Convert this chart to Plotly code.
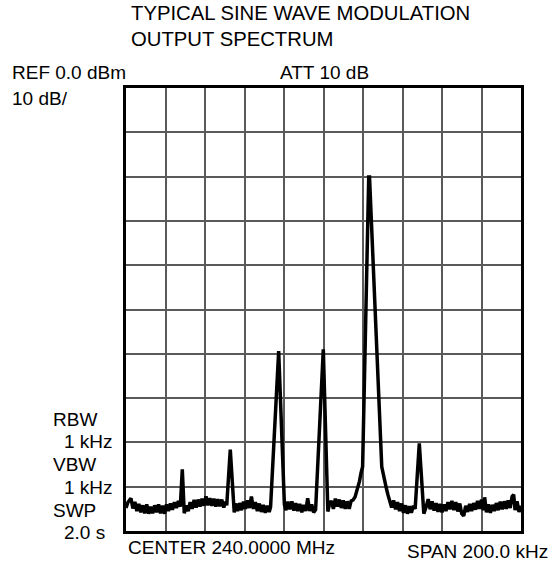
import plotly.graph_objects as go

# Frequency offset from center (kHz) and level (dBm)
freq_khz = [
    -100, -99, -97.5, -96.5, -95.5, -94.5, -93.5, -92.5, -91.5, -90.5, -89.5, -88.5, -87.5, -86.5,
    -85.5, -84.5, -83.5, -82.5, -81.5, -80.5, -79.5, -78.5, -77.5, -76.5, -75.5, -74.5, -73.5,
    -72.5, -71.5, -70.5, -69.5, -68.5, -67.5, -66.5, -65.5, -64.5, -63.5, -62.5, -61.5, -60.5,
    -59.5, -58.5, -57.5, -56.5, -55.5, -54.5, -53.5, -52.5, -51.5, -50.5, -49.5, -49.0, -47.2,
    -45.2, -44.5, -43.5, -42.5, -41.5, -40.5, -39.5, -38.5, -37.5, -36.5, -35.5, -34.5, -33.5,
    -32.5, -31.5, -30.5, -29.5, -28.5, -27.5, -26.8, -22.7, -19.8, -19.0, -18.0, -17.0, -16.0,
    -15.0, -14.0, -13.0, -12.0, -11.0, -10.0, -9.0, -8.0, -7.0, -6.0, -5.0, -4.0, -0.1, 2.2,
    3.0, 4.0, 5.0, 6.0, 7.0, 8.0, 9.0, 10.0, 11.0, 12.0, 13.0, 14.0, 15.0, 16.0, 16.8, 17.5,
    18.2, 19.0, 19.8, 22.9, 23.3, 29.5, 30.3, 31.1, 31.8, 32.6, 33.7, 34.5, 35.5, 36.5, 37.5,
    38.5, 39.5, 40.5, 41.5, 42.5, 43.5, 44.5, 45.5, 46.4, 48.5, 50.8, 52.0, 53.0, 54.0, 55.0,
    56.0, 57.0, 58.0, 59.0, 60.0, 61.0, 62.0, 63.0, 64.0, 65.0, 66.0, 67.0, 68.0, 69.0, 70.0,
    71.0, 72.0, 73.0, 74.0, 75.0, 76.0, 77.0, 78.0, 79.0, 80.0, 81.0, 81.6, 82.5, 83.5, 84.5,
    85.5, 86.5, 87.5, 88.5, 89.5, 90.5, 91.5, 92.5, 93.5, 94.5, 95.5, 96.3, 97.0, 98.0, 99.0,
    100.0,
]
level_dbm = [
    -94.8, -93.5, -92.6, -94.9, -93.4, -95.5, -93.9, -95.8, -94.2, -96.0, -94.0, -96.1, -94.5, -96.0,
    -94.2, -95.8, -94.0, -96.0, -94.3, -96.1, -94.0, -95.5, -93.8, -95.2, -93.5, -94.8, -93.2,
    -94.5, -86.1,
    -96.0, -94.2, -95.5, -93.5, -95.0, -93.0, -94.7, -92.9, -94.5, -92.7, -94.3, -92.2, -94.2,
    -92.6, -94.3, -92.7, -94.5, -92.8, -94.4, -92.9, -94.7, -93.4, -94.2,
    -81.6,
    -95.8, -93.8, -95.5, -93.7, -95.3, -93.4, -95.0, -93.1, -94.8, -92.2, -95.0, -93.5, -95.5,
    -93.8, -95.7, -94.1, -95.9, -94.3, -95.7, -94.6,
    -59.4,
    -94.0, -95.3, -93.4, -95.1, -93.3, -95.4, -93.7, -95.5, -93.9, -95.8, -94.1, -95.5, -92.6,
    -95.5, -94.0, -95.8, -95.2,
    -59.0,
    -95.6, -94.0, -93.2, -95.0, -92.7, -94.5, -92.9, -94.8, -93.1, -95.0, -93.3, -95.0, -93.2, -93.0,
    -92.3, -91.0, -90.1, -88.8, -86.9, -85.5,
    -20.1, -20.1,
    -85.5, -87.5, -89.2, -90.3, -91.8, -93.5,
    -94.7, -93.1, -95.1, -93.5, -95.5, -93.8, -95.9, -94.2, -96.1, -94.4, -95.9, -94.3,
    -95.0, -80.2, -96.1,
    -94.5, -92.8, -95.1, -93.3, -95.4, -93.7, -95.7, -93.9, -95.8, -94.0, -95.5, -93.5, -95.1,
    -93.2, -95.3, -93.5, -95.6, -93.8, -96.1, -96.6, -94.3, -95.7, -93.9, -95.5, -93.7, -95.2,
    -93.2, -95.0, -92.9, -95.3,
    -92.4,
    -95.8, -94.0, -95.9, -94.1, -95.5, -93.7, -95.3, -93.4, -95.1, -93.3, -95.0, -93.1, -94.8, -92.2,
    -91.8, -95.3, -93.3, -95.7, -94.3,
]
assert len(freq_khz) == len(level_dbm), (len(freq_khz), len(level_dbm))

title_lines = ["TYPICAL SINE WAVE MODULATION", "OUTPUT SPECTRUM"]
left_labels = ["RBW", "1 kHz", "VBW", "1 kHz", "SWP", "2.0 s"]

FONT = "Liberation Sans, Arial, sans-serif"
FS = 19
FS_TITLE = 20.3

fig = go.Figure()
fig.add_trace(go.Scatter(x=freq_khz, y=level_dbm, mode="lines",
                         line=dict(color="black", width=3.5), hoverinfo="skip"))

W, H = 555, 566
L, R, T, B = 126, 34, 88, 35
pw, ph = W - L - R, H - T - B

def px(xp):
    return (xp - L) / pw

def py(yp):
    return (H - B - yp) / ph

def ann(text, xp, yp_center, size=FS):
    fig.add_annotation(text=text, xref="paper", yref="paper", x=px(xp), y=py(yp_center),
                       xanchor="left", yanchor="middle", showarrow=False,
                       font=dict(family=FONT, size=size, color="black"), borderpad=0)

ann(title_lines[0], 130, 13.5, FS_TITLE)
ann(title_lines[1], 130, 39.5, FS_TITLE)
ann("REF 0.0 dBm", 11, 72.5)
ann("10 dB/", 11, 98.5)
ann("ATT 10 dB", 279, 72.5)
ys = [419, 441.5, 464, 487.5, 510, 532]
xs = [52, 63, 52, 63, 52, 63]
for t, x, y in zip(left_labels, xs, ys):
    ann(t, x, y)
ann("CENTER 240.0000 MHz", 127, 547)
ann("SPAN 200.0 kHz", 406, 551)

fig.update_xaxes(range=[-100, 100], dtick=20, tick0=-100, showticklabels=False, ticks="",
                 showgrid=True, gridcolor="#5a5a5a", gridwidth=1.6, zeroline=False,
                 showline=True, linecolor="black", linewidth=3, mirror=True)
fig.update_yaxes(range=[-100, 0], dtick=10, tick0=-100, showticklabels=False, ticks="",
                 showgrid=True, gridcolor="#5a5a5a", gridwidth=1.6, zeroline=False,
                 showline=True, linecolor="black", linewidth=3, mirror=True)
fig.update_layout(width=W, height=H, margin=dict(l=L, r=R, t=T, b=B),
                  paper_bgcolor="white", plot_bgcolor="white", showlegend=False,
                  font=dict(family=FONT, size=FS, color="black"))
fig.write_html("out.html", config={"displayModeBar": False},
               post_script="document.body.style.margin='0';document.body.style.padding='0';")
